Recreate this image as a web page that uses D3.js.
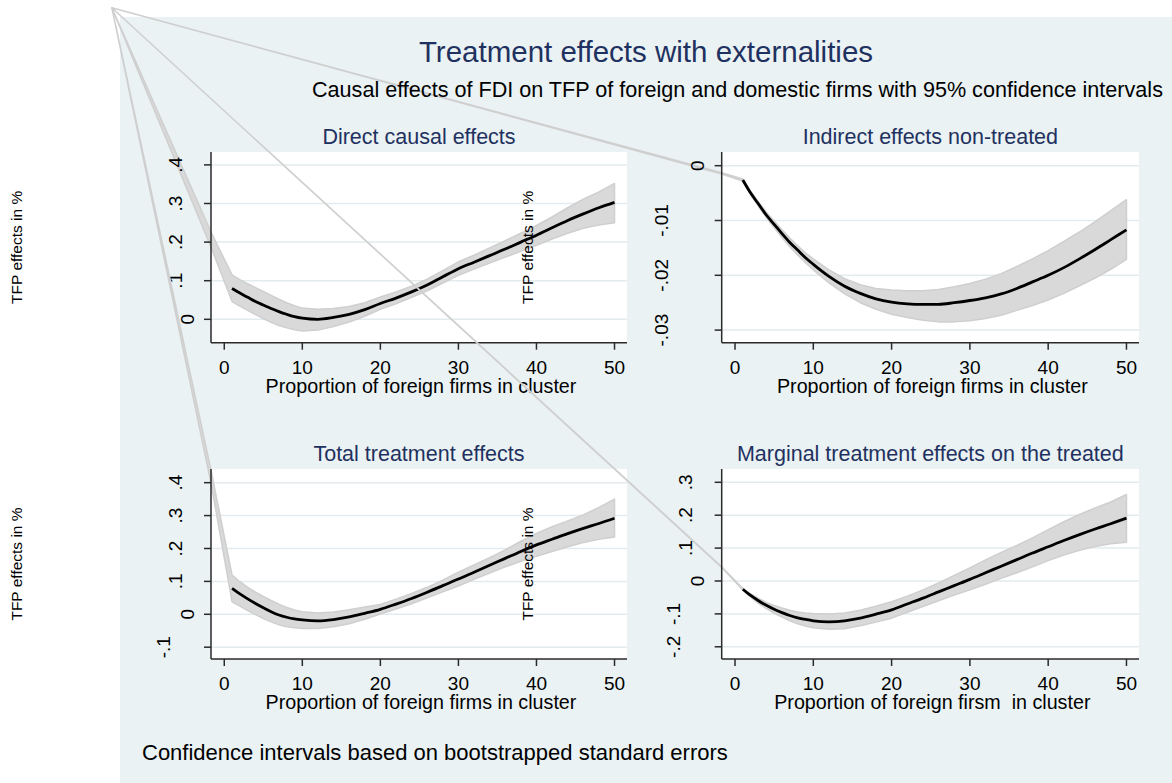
<!DOCTYPE html>
<html>
<head>
<meta charset="utf-8">
<script src="https://cdn.jsdelivr.net/npm/d3@7/dist/d3.min.js"></script>
<style>
  body { margin: 0; background: #fff; }
  text { font-family: Arial, "Liberation Sans", Helvetica, sans-serif; }
</style>
</head>
<body>
<svg id="chart" width="1172" height="783"></svg>
<script>
// proportion of foreign firms in cluster (x values of the estimates)
const xGrid = [1, 2, 3, 4, 5, 6, 7, 8, 9, 10, 12, 14, 16, 18, 20, 22, 24, 26, 28, 30, 32, 34, 36, 38, 40, 42, 44, 46, 48, 50];

const directEst = [0.080, 0.068, 0.057, 0.046, 0.037, 0.028, 0.020, 0.013, 0.007, 0.003, 0.000, 0.005, 0.013, 0.025, 0.041, 0.055, 0.071, 0.089, 0.110, 0.131, 0.148, 0.165, 0.182, 0.200, 0.218, 0.237, 0.256, 0.273, 0.289, 0.303];
const directHi = [0.115, 0.103, 0.092, 0.082, 0.072, 0.062, 0.052, 0.043, 0.035, 0.029, 0.026, 0.028, 0.033, 0.043, 0.058, 0.071, 0.086, 0.104, 0.126, 0.149, 0.166, 0.185, 0.204, 0.223, 0.243, 0.265, 0.289, 0.311, 0.330, 0.352];
const directLo = [0.046, 0.034, 0.023, 0.012, 0.002, -0.008, -0.016, -0.022, -0.027, -0.030, -0.028, -0.019, -0.007, 0.008, 0.026, 0.040, 0.057, 0.074, 0.094, 0.114, 0.130, 0.146, 0.161, 0.176, 0.192, 0.208, 0.223, 0.236, 0.244, 0.250];

const indirectEst = [-0.0026, -0.0050, -0.0070, -0.0090, -0.0107, -0.0124, -0.0140, -0.0154, -0.0168, -0.0180, -0.0202, -0.0220, -0.0233, -0.0243, -0.0249, -0.0252, -0.0253, -0.0253, -0.0250, -0.0246, -0.0241, -0.0234, -0.0224, -0.0212, -0.0200, -0.0186, -0.0170, -0.0153, -0.0135, -0.0117];
const indirectHi = [-0.0024, -0.0047, -0.0066, -0.0085, -0.0101, -0.0117, -0.0132, -0.0146, -0.0159, -0.0170, -0.0190, -0.0206, -0.0217, -0.0224, -0.0227, -0.0228, -0.0228, -0.0226, -0.0221, -0.0215, -0.0207, -0.0197, -0.0184, -0.0170, -0.0155, -0.0138, -0.0121, -0.0102, -0.0082, -0.0062];
const indirectLo = [-0.0028, -0.0053, -0.0074, -0.0095, -0.0113, -0.0131, -0.0148, -0.0163, -0.0177, -0.0190, -0.0214, -0.0234, -0.0250, -0.0262, -0.0271, -0.0277, -0.0282, -0.0285, -0.0285, -0.0283, -0.0279, -0.0273, -0.0264, -0.0255, -0.0245, -0.0233, -0.0219, -0.0205, -0.0189, -0.0171];

const totalEst = [0.079, 0.062, 0.047, 0.033, 0.020, 0.008, -0.002, -0.009, -0.014, -0.017, -0.020, -0.016, -0.008, 0.003, 0.015, 0.031, 0.048, 0.067, 0.087, 0.107, 0.128, 0.149, 0.170, 0.191, 0.211, 0.228, 0.245, 0.261, 0.276, 0.292];
const totalHi = [0.119, 0.099, 0.082, 0.067, 0.054, 0.042, 0.031, 0.021, 0.013, 0.008, 0.004, 0.007, 0.014, 0.022, 0.030, 0.046, 0.063, 0.082, 0.104, 0.128, 0.150, 0.172, 0.196, 0.222, 0.246, 0.266, 0.284, 0.302, 0.325, 0.350];
const totalLo = [0.038, 0.025, 0.011, -0.001, -0.013, -0.023, -0.032, -0.038, -0.041, -0.043, -0.043, -0.038, -0.029, -0.015, 0.001, 0.016, 0.032, 0.050, 0.068, 0.086, 0.106, 0.125, 0.144, 0.161, 0.176, 0.191, 0.205, 0.218, 0.228, 0.235];

const marginalEst = [-0.025, -0.044, -0.060, -0.074, -0.086, -0.096, -0.105, -0.112, -0.117, -0.121, -0.124, -0.121, -0.113, -0.101, -0.088, -0.070, -0.052, -0.033, -0.014, 0.005, 0.025, 0.045, 0.065, 0.085, 0.104, 0.123, 0.141, 0.158, 0.174, 0.191];
const marginalHi = [-0.023, -0.039, -0.053, -0.065, -0.074, -0.082, -0.089, -0.094, -0.097, -0.099, -0.100, -0.097, -0.089, -0.077, -0.063, -0.046, -0.027, -0.006, 0.017, 0.040, 0.064, 0.087, 0.108, 0.131, 0.156, 0.180, 0.202, 0.222, 0.240, 0.263];
const marginalLo = [-0.027, -0.049, -0.068, -0.084, -0.098, -0.110, -0.121, -0.130, -0.137, -0.142, -0.147, -0.145, -0.136, -0.125, -0.113, -0.095, -0.078, -0.060, -0.043, -0.027, -0.010, 0.008, 0.025, 0.043, 0.062, 0.079, 0.093, 0.105, 0.113, 0.118];

// stray vertex of the CI polygons (in direct-panel units) and lead-in points [lo, hi] at x = -1.7
const strayVertex = [-14.4, 0.807];
const leadX = -1.7;
const directLead = [0.187, 0.226];
const indirectLead = [-0.0015, -0.0013];
const totalLead = [0.399, 0.438];
const marginalLead = [0.041, 0.043];

const xTicks = [0, 10, 20, 30, 40, 50];
const directTicks = [0, 0.1, 0.2, 0.3, 0.4];
const directTickLabels = ["0", ".1", ".2", ".3", ".4"];
const indirectTicks = [0, -0.01, -0.02, -0.03];
const indirectTickLabels = ["0", "-.01", "-.02", "-.03"];
const totalTicks = [-0.1, 0, 0.1, 0.2, 0.3, 0.4];
const totalTickLabels = ["-.1", "0", ".1", ".2", ".3", ".4"];
const marginalTicks = [-0.2, -0.1, 0, 0.1, 0.2, 0.3];
const marginalTickLabels = ["-.2", "-.1", "0", ".1", ".2", ".3"];

const NAVY = "#1f3160";
const svg = d3.select("#chart");

svg.append("rect")
  .attr("x", 120).attr("y", 17)
  .attr("width", 1052).attr("height", 766)
  .attr("fill", "#eaf2f3");

const panels = [
  { title: "Direct causal effects", xTitle: "Proportion of foreign firms in cluster",
    est: directEst, lo: directLo, hi: directHi, lead: directLead,
    ticks: directTicks, tickLabels: directTickLabels, yDomain: [-0.0606, 0.4334],
    left: 211, top: 152, width: 416, height: 190.7 },
  { title: "Indirect effects non-treated", xTitle: "Proportion of foreign firms in cluster",
    est: indirectEst, lo: indirectLo, hi: indirectHi, lead: indirectLead,
    ticks: indirectTicks, tickLabels: indirectTickLabels, yDomain: [-0.0323, 0.0025],
    left: 721.7, top: 152, width: 417.3, height: 190.7 },
  { title: "Total treatment effects", xTitle: "Proportion of foreign firms in cluster",
    est: totalEst, lo: totalLo, hi: totalHi, lead: totalLead,
    ticks: totalTicks, tickLabels: totalTickLabels, yDomain: [-0.1359, 0.4416],
    left: 211, top: 469, width: 416, height: 190 },
  { title: "Marginal treatment effects on the treated", xTitle: "Proportion of foreign firsm  in cluster",
    est: marginalEst, lo: marginalLo, hi: marginalHi, lead: marginalLead,
    ticks: marginalTicks, tickLabels: marginalTickLabels, yDomain: [-0.2371, 0.3404],
    left: 721.7, top: 469, width: 417.3, height: 190 },
];

// scales of each panel
panels.forEach((p) => {
  p.x = d3.scaleLinear().domain([-1.7, 51.6]).range([p.left, p.left + p.width]);
  p.y = d3.scaleLinear().domain(p.yDomain).range([p.top + p.height, p.top]);
});

const stray = [panels[0].x(strayVertex[0]), panels[0].y(strayVertex[1])];

panels.forEach((p) => drawPanel(p));

function drawPanel(p) {
  const bottom = p.top + p.height;
  const g = svg.append("g");

  g.append("rect")
    .attr("x", p.left).attr("y", p.top)
    .attr("width", p.width).attr("height", p.height)
    .attr("fill", "#fff");

  g.append("g")
    .selectAll("line")
    .data(p.ticks)
    .enter()
    .append("line")
    .attr("x1", p.left).attr("x2", p.left + p.width)
    .attr("y1", (d) => p.y(d)).attr("y2", (d) => p.y(d))
    .attr("stroke", "#e3ebee")
    .attr("stroke-width", 1.5);

  // confidence band, including the stray vertex Stata left in the polygon
  const upper = xGrid.map((x, i) => [p.x(x), p.y(p.hi[i])]);
  const lower = xGrid.map((x, i) => [p.x(x), p.y(p.lo[i])]).reverse();
  const poly = [stray, [p.x(leadX), p.y(p.lead[1])], ...upper, ...lower, [p.x(leadX), p.y(p.lead[0])]];
  g.append("path")
    .attr("d", d3.line().curve(d3.curveLinearClosed)(poly))
    .attr("fill", "#d9d9d9")
    .attr("stroke", "#cfcfcf")
    .attr("stroke-width", 1.5)
    .attr("stroke-linejoin", "round");

  const line = d3.line()
    .x((d) => p.x(d[0]))
    .y((d) => p.y(d[1]))
    .curve(d3.curveMonotoneX);
  g.append("path")
    .datum(xGrid.map((x, i) => [x, p.est[i]]))
    .attr("d", line)
    .attr("fill", "none")
    .attr("stroke", "#000")
    .attr("stroke-width", 2.8);

  // axes
  const axisColor = "#2a2a2a";
  g.append("line")
    .attr("x1", p.left).attr("x2", p.left)
    .attr("y1", p.top).attr("y2", bottom)
    .attr("stroke", axisColor).attr("stroke-width", 1.5);
  g.append("line")
    .attr("x1", p.left).attr("x2", p.left + p.width)
    .attr("y1", bottom).attr("y2", bottom)
    .attr("stroke", axisColor).attr("stroke-width", 1.5);

  g.append("g")
    .selectAll("line")
    .data(p.ticks)
    .enter()
    .append("line")
    .attr("x1", p.left - 7).attr("x2", p.left)
    .attr("y1", (d) => p.y(d)).attr("y2", (d) => p.y(d))
    .attr("stroke", axisColor).attr("stroke-width", 1.5);

  g.append("g")
    .selectAll("text")
    .data(p.ticks)
    .enter()
    .append("text")
    .attr("transform", (d, i) => `translate(${p.left - 12 - 12 * p.tickLabels[i].length}, ${p.y(d)}) rotate(-90)`)
    .attr("text-anchor", "middle")
    .attr("dy", "0.35em")
    .attr("font-size", 19)
    .attr("fill", "#000")
    .text((d, i) => p.tickLabels[i]);

  g.append("g")
    .selectAll("line")
    .data(xTicks)
    .enter()
    .append("line")
    .attr("x1", (d) => p.x(d)).attr("x2", (d) => p.x(d))
    .attr("y1", bottom).attr("y2", bottom + 7)
    .attr("stroke", axisColor).attr("stroke-width", 1.5);

  g.append("g")
    .selectAll("text")
    .data(xTicks)
    .enter()
    .append("text")
    .attr("x", (d) => p.x(d))
    .attr("y", bottom + 31)
    .attr("text-anchor", "middle")
    .attr("font-size", 19)
    .attr("fill", "#000")
    .text((d) => d);

  g.append("text")
    .attr("x", p.left + p.width / 2 + 2)
    .attr("y", bottom + 50)
    .attr("text-anchor", "middle")
    .attr("font-size", 19.7)
    .attr("fill", "#000")
    .style("white-space", "pre")
    .text(p.xTitle);

  g.append("text")
    .attr("x", p.left + p.width / 2)
    .attr("y", p.top - 8)
    .attr("text-anchor", "middle")
    .attr("font-size", 21.5)
    .attr("fill", NAVY)
    .text(p.title);

  // y title lands far to the left of its own panel
  g.append("text")
    .attr("transform", `translate(${p.left - 194.5}, ${p.top + p.height / 2}) rotate(-90)`)
    .attr("text-anchor", "middle")
    .attr("dy", "0.35em")
    .attr("font-size", 15.5)
    .attr("fill", "#000")
    .text("TFP effects in %");
}

svg.append("text")
  .attr("x", 646).attr("y", 62)
  .attr("text-anchor", "middle")
  .attr("font-size", 29.5)
  .attr("fill", NAVY)
  .text("Treatment effects with externalities");

svg.append("text")
  .attr("x", 312).attr("y", 96.5)
  .attr("font-size", 21.6)
  .attr("fill", "#000")
  .text("Causal effects of FDI on TFP of foreign and domestic firms with 95% confidence intervals");

svg.append("text")
  .attr("x", 142).attr("y", 760)
  .attr("font-size", 22)
  .attr("fill", "#000")
  .text("Confidence intervals based on bootstrapped standard errors");
</script>
</body>
</html>
